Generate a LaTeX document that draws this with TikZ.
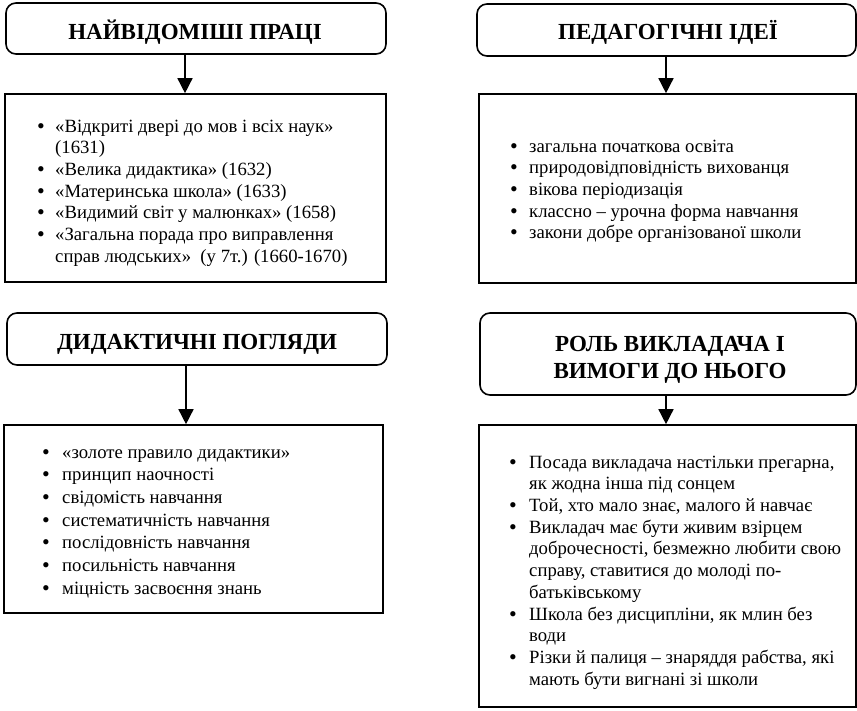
\documentclass[tikz,border=0pt]{standalone}
\usepackage{fontspec}
\setmainfont{Liberation Serif}
\usetikzlibrary{arrows.meta}
\newcommand{\listfnt}{\fontsize{18.7pt}{21.7pt}\selectfont}
\newcommand{\listfntb}{\fontsize{18.7pt}{22.7pt}\selectfont}
\newcommand{\headfnt}{\fontsize{23pt}{26.7pt}\selectfont\bfseries}
\newcommand{\bl}[1]{\makebox[#1][l]{\raisebox{-1pt}{\fontsize{22pt}{22pt}\selectfont •}}}
\begin{document}
\begin{tikzpicture}[x=1pt,y=-1pt,
  hbox/.style={draw, line width=1.6pt, rounded corners=10pt, inner sep=0pt},
  lbox/.style={draw, line width=1.6pt, inner sep=0pt},
  title/.style={anchor=base, inner sep=0pt, align=center, font=\headfnt},
  txt/.style={anchor=north west, inner sep=0pt},
  arr/.style={line width=1.5pt, -{Triangle[width=15pt,length=15pt]}}]
\fill[white] (0,0) rectangle (857,711);
\useasboundingbox (0,0) rectangle (857,711);

% header boxes
\node[hbox, minimum width=380pt, minimum height=51pt] (H1) at (196,28.5) {};
\node[hbox, minimum width=379pt, minimum height=52pt] (H2) at (666.5,30) {};
\node[hbox, minimum width=380pt, minimum height=52pt] (H3) at (197,339) {};
\node[hbox, minimum width=376pt, minimum height=82pt] (H4) at (668,354) {};

\node[title] (T1) at (195,40) {НАЙВІДОМІШІ ПРАЦІ};
\node[title] (T2) at (668,40) {ПЕДАГОГІЧНІ ІДЕЇ};
\node[title] (T3) at (197,350) {ДИДАКТИЧНІ ПОГЛЯДИ};
\node[title] (T4) at (670,378.3) {РОЛЬ ВИКЛАДАЧА І\\ВИМОГИ ДО НЬОГО};

% list boxes
\node[lbox, minimum width=381pt, minimum height=188pt] (L1) at (195.5,188) {};
\node[lbox, minimum width=377pt, minimum height=189pt] (L2) at (667.5,188.5) {};
\node[lbox, minimum width=379pt, minimum height=188pt] (L3) at (193.5,519) {};
\node[lbox, minimum width=377pt, minimum height=282pt] (L4) at (667.5,566) {};

% arrows
\draw[arr] ([xshift=-11pt]H1.south) -- ([xshift=-11pt]H1.south |- L1.north);
\draw[arr] ([xshift=-0.5pt]H2.south) -- ([xshift=-0.5pt]H2.south |- L2.north);
\draw[arr] ([xshift=-11pt]H3.south) -- ([xshift=-11pt]H3.south |- L3.north);
\draw[arr] ([xshift=-2pt]H4.south) -- ([xshift=-2pt]H4.south |- L4.north);

% list texts
\node[txt] (X1) at (37,116.8) {\listfnt\begin{tabular}{@{}l@{}l@{}}
\bl{18pt} & «Відкриті двері до мов і всіх наук»\\
 & (1631)\\
\bl{18pt} & «Велика дидактика» (1632)\\
\bl{18pt} & «Материнська школа» (1633)\\
\bl{18pt} & «Видимий світ у малюнках» (1658)\\
\bl{18pt} & «Загальна порада про виправлення\\
 & справ людських»\ \ (у 7т.) (1660-1670)
\end{tabular}};

\node[txt] (X2) at (510,136.8) {\listfnt\begin{tabular}{@{}l@{}l@{}}
\bl{19pt} & загальна початкова освіта\\
\bl{19pt} & природовідповідність вихованця\\
\bl{19pt} & вікова періодизація\\
\bl{19pt} & классно – урочна форма навчання\\
\bl{19pt} & закони добре організованої школи
\end{tabular}};

\node[txt] (X3) at (42,442.1) {\listfntb\begin{tabular}{@{}l@{}l@{}}
\bl{20pt} & «золоте правило дидактики»\\
\bl{20pt} & принцип наочності\\
\bl{20pt} & свідомість навчання\\
\bl{20pt} & систематичність навчання\\
\bl{20pt} & послідовність навчання\\
\bl{20pt} & посильність навчання\\
\bl{20pt} & міцність засвоєння знань
\end{tabular}};

\node[txt] (X4) at (509,452.8) {\listfnt\begin{tabular}{@{}l@{}l@{}}
\bl{20pt} & Посада викладача настільки прегарна,\\
 & як жодна інша під сонцем\\
\bl{20pt} & Той, хто мало знає, малого й навчає\\
\bl{20pt} & Викладач має бути живим взірцем\\
 & доброчесності, безмежно любити свою\\
 & справу, ставитися до молоді по-\\
 & батьківському\\
\bl{20pt} & Школа без дисципліни, як млин без\\
 & води\\
\bl{20pt} & Різки й палиця – знаряддя рабства, які\\
 & мають бути вигнані зі школи
\end{tabular}};
\end{tikzpicture}
\end{document}
